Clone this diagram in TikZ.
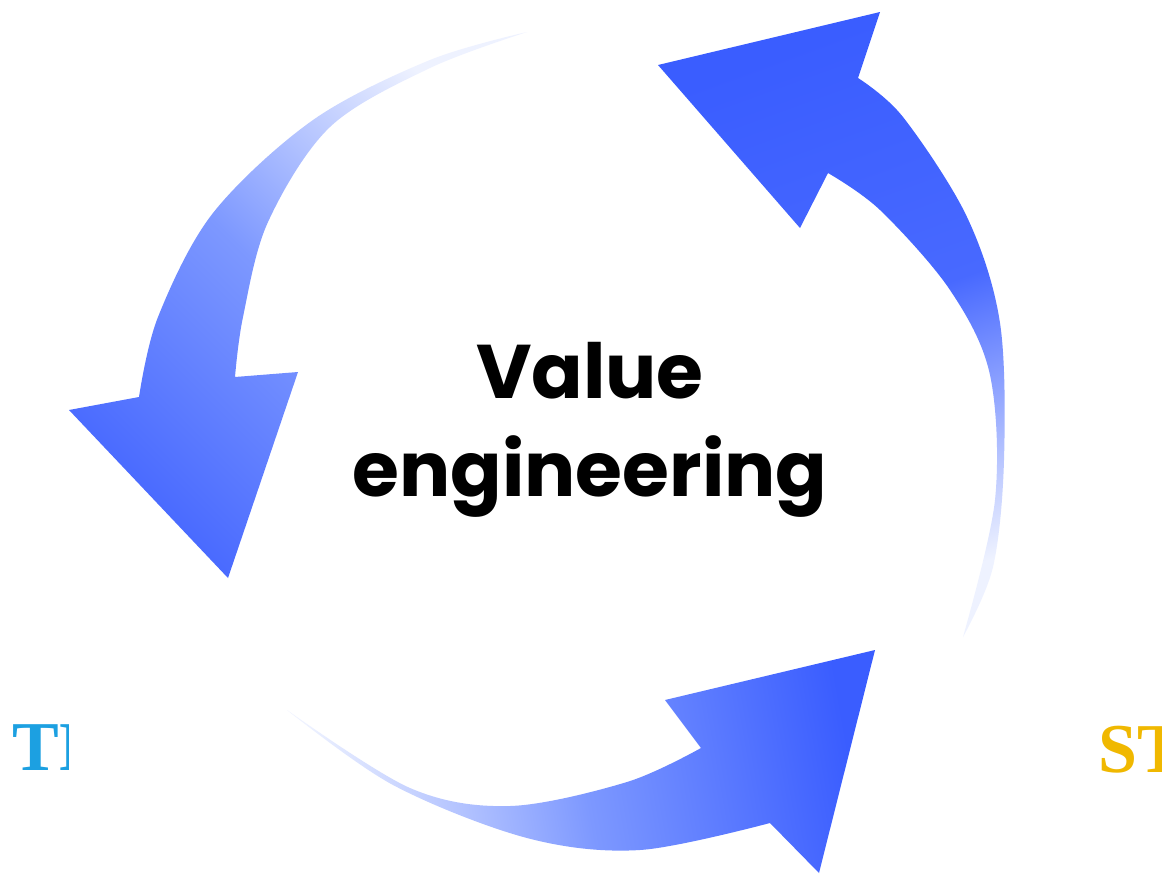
\documentclass[tikz,border=0pt]{standalone}
\usepackage{fontspec}
\setmainfont{Poppins}
\newfontfamily\capfont{Liberation Serif}
\usetikzlibrary{positioning}

\definecolor{ringblue}{RGB}{58,93,255}
\definecolor{ringdeep}{RGB}{72,105,255}
\definecolor{ringmid}{RGB}{125,152,255}
\definecolor{ringpale}{RGB}{238,242,255}
\definecolor{wordcyan}{RGB}{28,160,225}
\definecolor{wordgold}{RGB}{240,184,0}

\begin{document}
\begin{tikzpicture}[x=1pt,y=-1pt,
	centre text/.style={font=\fontsize{76}{98}\selectfont\bfseries,align=center,text=black,inner sep=0pt},
	edge word/.style={font=\capfont\bfseries\fontsize{70}{70}\selectfont,anchor=base west,inner sep=0pt},
	ring curve/.style={smooth,tension=0.55}]
	\useasboundingbox (0,0) rectangle (1162,876);
	\fill[white] (0,0) rectangle (1162,876);
	
	\begin{scope}
		\clip (0,600) rectangle (68,876);
		\node[edge word,text=wordcyan] (leftword) at (12,770) {TI};
	\end{scope}
	\begin{scope}
		\clip (1098,600) rectangle (1162,876);
		\node[edge word,text=wordgold] (rightword) at (1098,772) {ST};
	\end{scope}
	
	% left arrow, pointing down
	\shade[top color=ringdeep,bottom color=ringpale,middle color=ringmid,shading angle=135]
	plot[ring curve] coordinates {(527,32) (430,60) (313,120) (213,213) (158,317) (139,397)}
	-- (69,410) -- (228,578) -- (298,372) -- (235,377)
	-- plot[ring curve] coordinates {(235,377) (243,317) (268,222) (330,127) (430,68) (527,32)}
	-- cycle;
	
	% bottom arrow, pointing right
	\shade[top color=ringblue,bottom color=ringpale,middle color=ringmid,shading angle=-80]
	plot[ring curve] coordinates {(287,710) (410,788) (510,806) (627,782) (701,748)}
	-- (665,700) -- (875,650) -- (819,873) -- (770,823)
	-- plot[ring curve] coordinates {(770,823) (640,850) (527,838) (393,785) (287,710)}
	-- cycle;
	
	% right arrow, pointing up
	\shade[top color=ringblue,bottom color=ringpale,middle color=ringdeep,shading angle=20]
	plot[ring curve] coordinates {(963,637) (995,500) (990,375) (950,290) (880,210) (828,173)}
	-- (800,228) -- (658,65) -- (880,12) -- (858,78)
	-- plot[ring curve] coordinates {(858,78) (903,117) (967,217) (1000,323) (1004,460) (993,567) (963,637)}
	-- cycle;
	
	\node[centre text] (vetext) at (590,430) {Value\\engineering};
\end{tikzpicture}
\end{document}
